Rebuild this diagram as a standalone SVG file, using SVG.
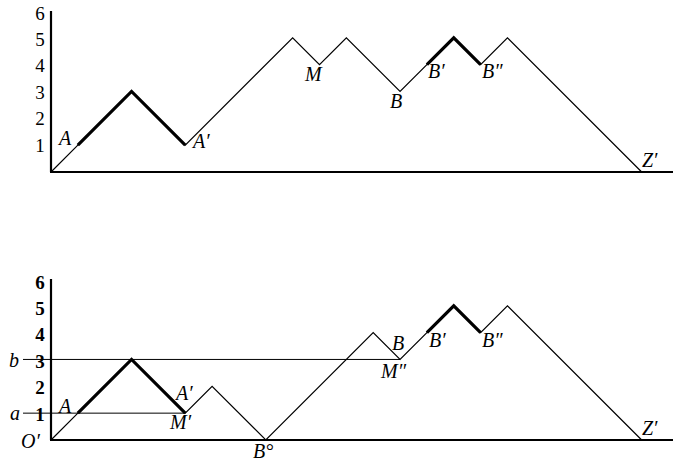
<svg xmlns="http://www.w3.org/2000/svg" width="673" height="466" viewBox="0 0 673 466">
<style>
.axis{stroke:#000;stroke-width:2.2;fill:none}
.path{stroke:#000;stroke-width:1.2;fill:none;stroke-linejoin:miter}
.thick{stroke:#000;stroke-width:3.2;fill:none;stroke-linejoin:miter}
.ref{stroke:#000;stroke-width:1;fill:none}
.num{font-family:"Liberation Serif","DejaVu Serif",serif;font-size:19px;fill:#000;text-anchor:middle}
.bnum{font-family:"Liberation Serif","DejaVu Serif",serif;font-size:19px;font-weight:bold;fill:#000;text-anchor:middle}
.lab{font-family:"Liberation Serif","DejaVu Serif",serif;font-size:20px;font-style:italic;fill:#000}
</style>
<g id="top-axes">
<line class="axis" x1="51" y1="11" x2="51" y2="172"/>
<line class="axis" x1="50" y1="172" x2="673" y2="172"/>
<text class="num" x="40" y="151.5">1</text>
<text class="num" x="40" y="125.1">2</text>
<text class="num" x="40" y="98.7">3</text>
<text class="num" x="40" y="72.3">4</text>
<text class="num" x="40" y="45.9">5</text>
<text class="num" x="40" y="19.5">6</text>
</g>
<g id="connectors">
<polyline class="path" points="51,172 77.85,145.15 131.55,91.45 185.25,145.15 292.65,37.75 319.5,64.6 346.35,37.75 400.05,91.45 426.9,64.6 453.75,37.75 480.6,64.6 507.45,37.75 641.7,172"/>
<polyline class="thick" points="77.85,145.15 131.55,91.45 185.25,145.15"/>
<polyline class="thick" points="426.9,64.6 453.75,37.75 480.6,64.6"/>
<line class="ref" x1="23" y1="359.45" x2="400.05" y2="359.45"/>
<line class="ref" x1="23" y1="413.15" x2="185.25" y2="413.15"/>
<polyline class="path" points="51,440 77.85,413.15 131.55,359.45 185.25,413.15 212.1,386.3 265.8,440 373.2,332.6 400.05,359.45 426.9,332.6 453.75,305.75 480.6,332.6 507.45,305.75 641.7,440"/>
<polyline class="thick" points="77.85,413.15 131.55,359.45 185.25,413.15"/>
<polyline class="thick" points="426.9,332.6 453.75,305.75 480.6,332.6"/>
</g>
<g id="top-labels">
<text class="lab" x="59" y="145">A</text>
<text class="lab" x="193" y="148">A′</text>
<text class="lab" x="305" y="81">M</text>
<text class="lab" x="390" y="108">B</text>
<text class="lab" x="428" y="78">B′</text>
<text class="lab" x="482" y="78">B″</text>
<text class="lab" x="642" y="167">Z′</text>
</g>
<g id="bottom-axes">
<line class="axis" x1="51" y1="279" x2="51" y2="440"/>
<line class="axis" x1="50" y1="440" x2="673" y2="440"/>
<text class="bnum" x="40" y="420.5">1</text>
<text class="bnum" x="40" y="394.1">2</text>
<text class="bnum" x="40" y="367.7">3</text>
<text class="bnum" x="40" y="341.3">4</text>
<text class="bnum" x="40" y="314.9">5</text>
<text class="bnum" x="40" y="288.5">6</text>
<text class="lab" x="9" y="367">b</text>
<text class="lab" x="10" y="420">a</text>
<text class="lab" x="21" y="448">O′</text>
</g>
<g id="bottom-labels">
<text class="lab" x="59" y="413">A</text>
<text class="lab" x="176" y="400">A′</text>
<text class="lab" x="170" y="429">M′</text>
<text class="lab" x="253" y="458">B°</text>
<text class="lab" x="392" y="350">B</text>
<text class="lab" x="381" y="378">M″</text>
<text class="lab" x="429" y="347">B′</text>
<text class="lab" x="482" y="347">B″</text>
<text class="lab" x="642" y="435">Z′</text>
</g>
</svg>
